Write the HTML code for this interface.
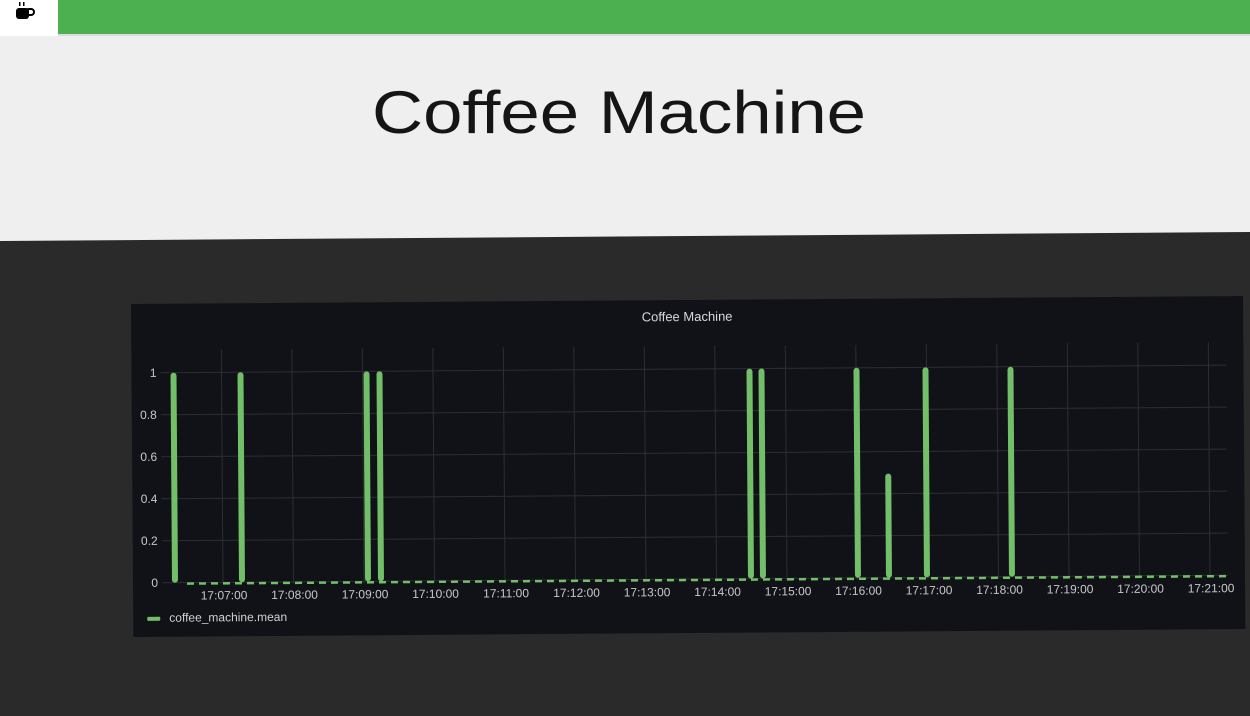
<!DOCTYPE html>
<html><head><meta charset="utf-8"><style>
html,body{margin:0;padding:0;width:1250px;height:716px;overflow:hidden;background:#2a2a2a}
</style></head><body>
<svg width="1250" height="716" xmlns="http://www.w3.org/2000/svg" font-family="Liberation Sans, sans-serif">
<rect x="0" y="0" width="1250" height="716" fill="#2a2a2a"/>
<polygon points="0,0 1250,0 1250,232 0,241" fill="#efefef"/>
<rect x="0" y="30" width="1250" height="6" fill="#dcdcdc"/>
<rect x="58" y="0" width="1192" height="34" fill="#4caf50"/>
<rect x="0" y="0" width="58" height="36" fill="#ffffff"/>
<g fill="#000">
<rect x="16" y="8" width="13" height="11" rx="3"/>
<rect x="26" y="9" width="8" height="6" rx="3" fill="none" stroke="#000" stroke-width="2"/>
<rect x="19" y="2" width="1.5" height="4"/><rect x="23" y="2" width="1.5" height="4"/>
</g>
<text x="619" y="133" font-size="60" text-anchor="middle" fill="#151515" textLength="494" lengthAdjust="spacingAndGlyphs">Coffee Machine</text>
<g transform="rotate(-0.41 131 304)">
<rect x="131" y="304" width="1112" height="333" fill="#111217"/>
<text x="687" y="325" font-size="13" fill="#d8d9da" text-anchor="middle">Coffee Machine</text>
<g stroke="#2c2e33" stroke-width="1">
<line x1="160" y1="373" x2="1226" y2="373"/>
<line x1="160" y1="415" x2="1226" y2="415"/>
<line x1="160" y1="457" x2="1226" y2="457"/>
<line x1="160" y1="499" x2="1226" y2="499"/>
<line x1="160" y1="541" x2="1226" y2="541"/>
<line x1="160" y1="583" x2="1226" y2="583"/>
<line x1="221" y1="350" x2="221" y2="585"/><line x1="291.5" y1="350" x2="291.5" y2="585"/><line x1="362" y1="350" x2="362" y2="585"/><line x1="432.5" y1="350" x2="432.5" y2="585"/><line x1="503" y1="350" x2="503" y2="585"/><line x1="573.5" y1="350" x2="573.5" y2="585"/><line x1="644" y1="350" x2="644" y2="585"/><line x1="714.5" y1="350" x2="714.5" y2="585"/><line x1="785" y1="350" x2="785" y2="585"/><line x1="855.5" y1="350" x2="855.5" y2="585"/><line x1="926" y1="350" x2="926" y2="585"/><line x1="996.5" y1="350" x2="996.5" y2="585"/><line x1="1067" y1="350" x2="1067" y2="585"/><line x1="1137.5" y1="350" x2="1137.5" y2="585"/><line x1="1208" y1="350" x2="1208" y2="585"/>
</g>
<g font-size="12" fill="#c7c7c7" text-anchor="end">
<text x="156" y="377">1</text><text x="156" y="419">0.8</text><text x="156" y="461">0.6</text><text x="156" y="503">0.4</text><text x="156" y="545">0.2</text><text x="156" y="587">0</text>
</g>
<g font-size="12" fill="#c7c7c7" text-anchor="middle">
<text x="222" y="600">17:07:00</text><text x="292.5" y="600">17:08:00</text><text x="363" y="600">17:09:00</text><text x="433.5" y="600">17:10:00</text><text x="504" y="600">17:11:00</text><text x="574.5" y="600">17:12:00</text><text x="645" y="600">17:13:00</text><text x="715.5" y="600">17:14:00</text><text x="786" y="600">17:15:00</text><text x="856.5" y="600">17:16:00</text><text x="927" y="600">17:17:00</text><text x="997.5" y="600">17:18:00</text><text x="1068" y="600">17:19:00</text><text x="1138.5" y="600">17:20:00</text><text x="1209" y="600">17:21:00</text>
</g>
<line x1="185" y1="584" x2="1226" y2="584" stroke="#73bf69" stroke-width="2.5" stroke-dasharray="7,5"/>
<g fill="#73bf69">
<rect x="170" y="373" width="6" height="210" rx="3"/>
<rect x="237" y="373" width="6" height="210" rx="3"/>
<rect x="363" y="373" width="6" height="210" rx="3"/>
<rect x="376" y="373" width="6" height="210" rx="3"/>
<rect x="746" y="373" width="6" height="210" rx="3"/>
<rect x="758" y="373" width="6" height="210" rx="3"/>
<rect x="853" y="373" width="6" height="210" rx="3"/>
<rect x="884" y="479" width="6" height="104" rx="3"/>
<rect x="922" y="373" width="6" height="210" rx="3"/>
<rect x="1007" y="373" width="6" height="210" rx="3"/>
</g>
<rect x="145" y="617" width="13" height="4" rx="1" fill="#73bf69"/>
<text x="167" y="622" font-size="12" fill="#d0d0d0">coffee_machine.mean</text>
</g>
</svg>
</body></html>
